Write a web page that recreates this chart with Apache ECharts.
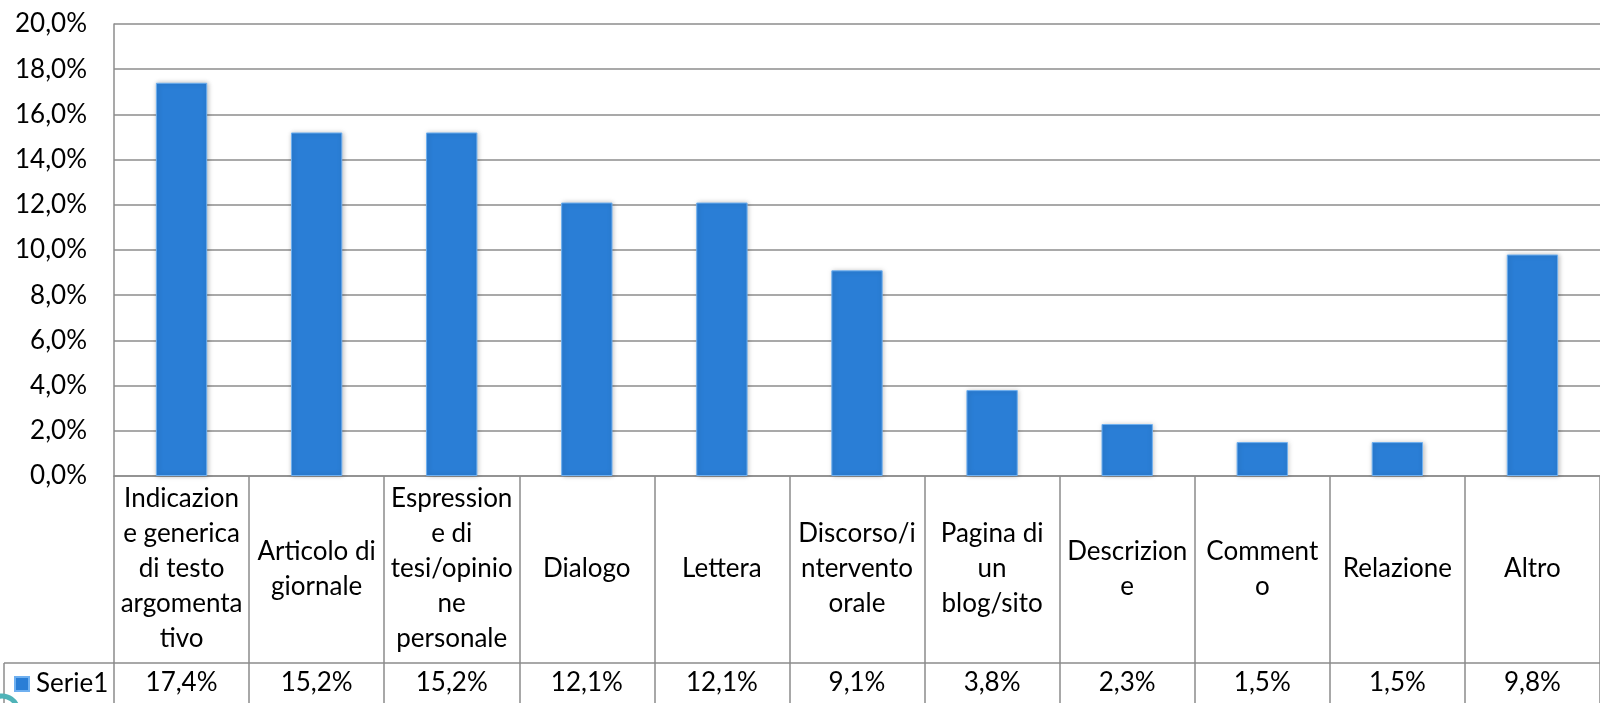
<!DOCTYPE html>
<html>
<head>
<meta charset="utf-8">
<script src="https://cdn.jsdelivr.net/npm/echarts@6/dist/echarts.min.js"></script>
<style>
  html, body { margin: 0; padding: 0; background: #fff; }
  #main { width: 1600px; height: 703px; }
</style>
</head>
<body>
<div id="main"></div>
<script>
// categories as wrapped in the chart's data table
const categories = [
    'Indicazion\ne generica\ndi testo\nargomenta\ntivo',
    'Articolo di\ngiornale',
    'Espression\ne di\ntesi/opinio\nne\npersonale',
    'Dialogo',
    'Lettera',
    'Discorso/i\nntervento\norale',
    'Pagina di\nun\nblog/sito',
    'Descrizion\ne',
    'Comment\no',
    'Relazione',
    'Altro'
];
const serie1 = [17.4, 15.2, 15.2, 12.1, 12.1, 9.1, 3.8, 2.3, 1.5, 1.5, 9.8];
const seriesName = 'Serie1';

const gridColor = '#8c8c8c';
const textColor = '#000';
const fontFamily = 'Lato';
const fontSize = 26;

function pct(v) {
    return v.toFixed(1).replace('.', ',') + '%';
}

var chartDom = document.getElementById('main');
var myChart = echarts.init(chartDom);

var option = {
    animation: false,
    textStyle: { fontFamily: fontFamily },
    grid: { left: 114, top: 24, width: 1496, height: 452 },
    legend: {
        data: [seriesName],
        left: 14,
        top: 671,
        icon: 'rect',
        itemWidth: 14,
        itemHeight: 14,
        padding: 0,
        selectedMode: false,
        textStyle: { fontSize: fontSize, color: textColor, fontFamily: fontFamily, padding: [0, 0, 0, 2] }
    },
    xAxis: [
        {
            type: 'category',
            data: categories,
            position: 'bottom',
            axisLine: { show: true, lineStyle: { color: gridColor, width: 1.5 } },
            axisTick: { show: true, length: 230, lineStyle: { color: gridColor, width: 1.5 } },
            axisLabel: {
                interval: 0,
                margin: 93,
                verticalAlign: 'middle',
                lineHeight: 35,
                fontSize: fontSize,
                color: textColor,
                fontFamily: fontFamily
            }
        },
        {
            type: 'category',
            data: serie1.map(pct),
            position: 'bottom',
            offset: 187,
            axisLine: { show: true, lineStyle: { color: gridColor, width: 1.5 } },
            axisTick: { show: false },
            axisLabel: {
                interval: 0,
                margin: 20,
                verticalAlign: 'middle',
                fontSize: fontSize,
                color: textColor,
                fontFamily: fontFamily
            }
        }
    ],
    yAxis: {
        type: 'value',
        min: 0,
        max: 20,
        interval: 2,
        axisLine: { show: true, lineStyle: { color: gridColor, width: 1.5 } },
        axisTick: { show: false },
        splitLine: { show: true, lineStyle: { color: gridColor, width: 1.5 } },
        axisLabel: {
            margin: 27,
            fontSize: fontSize,
            color: textColor,
            fontFamily: fontFamily,
            formatter: v => pct(v)
        }
    },
    series: [
        {
            name: seriesName,
            type: 'bar',
            data: serie1,
            barWidth: '38%',
            itemStyle: {
                color: '#2a7ed6',
                borderColor: '#6fb0f0',
                borderWidth: 1,
                shadowColor: 'rgba(0,0,0,0.25)',
                shadowBlur: 5,
                shadowOffsetX: 1
            }
        }
    ],
    graphic: [
        // legend cell borders of the data table
        {
            type: 'line',
            shape: { x1: 4, y1: 663, x2: 114, y2: 663 },
            style: { stroke: gridColor, lineWidth: 1.5 }
        },
        {
            type: 'line',
            shape: { x1: 4, y1: 663, x2: 4, y2: 703 },
            style: { stroke: gridColor, lineWidth: 1.5 }
        },
        // little teal swirl in the corner
        {
            type: 'arc',
            shape: { cx: 2, cy: 712, r: 16, startAngle: -Math.PI * 0.55, endAngle: Math.PI * 0.1 },
            style: { stroke: '#4fb3b8', lineWidth: 5, fill: null }
        }
    ]
};

option && myChart.setOption(option);
</script>
</body>
</html>
